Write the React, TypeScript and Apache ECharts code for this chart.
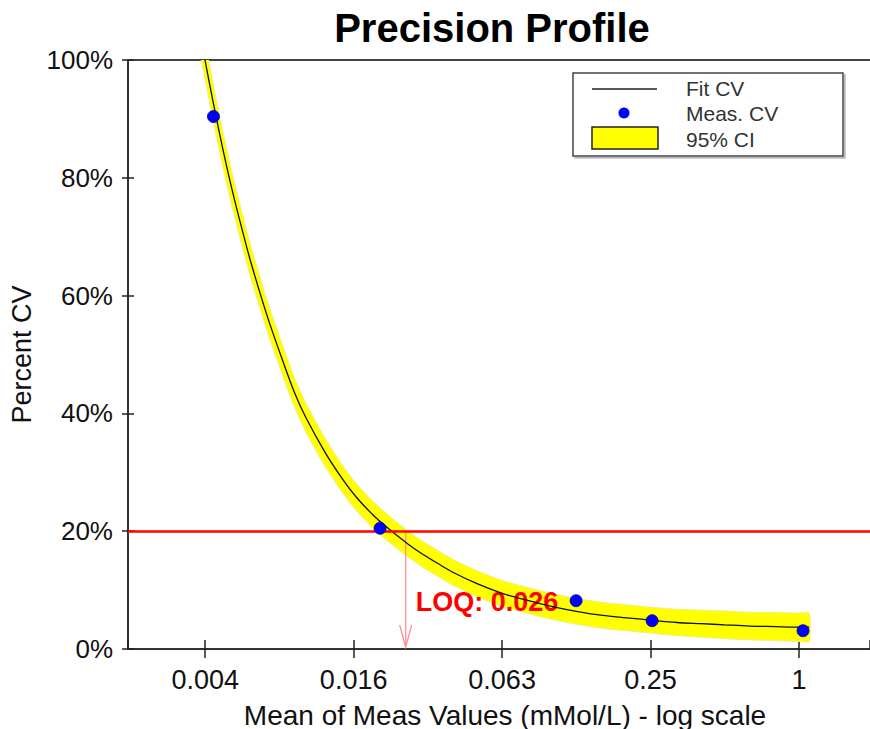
import React, { useEffect, useRef } from 'react';
import * as echarts from 'echarts';

const titleText = 'Precision Profile';
const xAxisTitle = 'Mean of Meas Values (mMol/L) - log scale';
const yAxisTitle = 'Percent CV';
const xTickPowers = [-4, -3, -2, -1, 0];
const xTickLabels = ['0.004', '0.016', '0.063', '0.25', '1'];
const xMin = 0.0019;
const xMax = 1.94;

const fitX = [0.0037, 0.0039, 0.0042, 0.0046, 0.005, 0.0055, 0.006, 0.007, 0.008, 0.009, 0.01, 0.012, 0.014, 0.016, 0.019, 0.022, 0.026, 0.03, 0.035, 0.04, 0.05, 0.063, 0.08, 0.1, 0.125, 0.16, 0.2, 0.25, 0.32, 0.4, 0.5, 0.63, 0.8, 1.0, 1.1];
const fitCV = [105.2, 100.0, 93.0, 85.0, 78.3, 71.4, 65.5, 56.3, 49.3, 43.5, 39.3, 33.3, 29.0, 25.8, 22.5, 20.2, 17.8, 16.0, 14.3, 12.9, 11.0, 9.4, 8.2, 7.2, 6.4, 5.7, 5.3, 4.9, 4.5, 4.3, 4.1, 3.9, 3.8, 3.7, 3.7];
const ciLow = [102.0, 96.8, 89.9, 82.0, 75.4, 68.6, 62.8, 53.7, 46.75, 41.0, 36.85, 30.9, 26.65, 23.5, 20.2, 17.95, 15.6, 13.8, 12.1, 10.7, 8.8, 7.2, 6.0, 5.0, 4.2, 3.5, 3.1, 2.7, 2.25, 2.0, 1.75, 1.55, 1.4, 1.3, 1.3];
const ciHigh = [108.4, 103.2, 96.1, 88.0, 81.2, 74.2, 68.2, 58.9, 51.85, 46.0, 41.75, 35.7, 31.35, 28.1, 24.8, 22.45, 20.0, 18.2, 16.5, 15.1, 13.2, 11.6, 10.4, 9.4, 8.6, 7.9, 7.5, 7.1, 6.75, 6.6, 6.45, 6.25, 6.2, 6.1, 6.1];

const measX = [0.00422, 0.02, 0.1247, 0.2536, 1.038];
const measCV = [90.4, 20.5, 8.2, 4.8, 3.1];

const loqLimit = 20;
const loqArrowX = 0.0254;
const loqLabel = '0.026';
const legendLabels = ['Fit CV', 'Meas. CV', '95% CI'];

const FONT = '"Liberation Sans", Arial, sans-serif';

export default function App() {
  const ref = useRef<HTMLDivElement>(null);
  useEffect(() => {
    document.body.style.margin = '0';
    if (!ref.current) return;
    const chart = echarts.init(ref.current, null, { renderer: 'svg' });
    const xFormatter = (v: number) => {
      const p = Math.log(v) / Math.log(4);
      const r = Math.round(p);
      if (Math.abs(p - r) > 0.02) return '';
      const i = xTickPowers.indexOf(r);
      return i >= 0 ? xTickLabels[i] : '';
    };
    const option: any = {
      animation: false,
      backgroundColor: '#ffffff',
      grid: { left: 128, right: 0, top: 60, bottom: 80, outerBoundsMode: 'none' },
      xAxis: [
        {
          type: 'log', logBase: 4, min: xMin, max: xMax, position: 'bottom',
          axisLine: { show: true, onZero: false, lineStyle: { color: '#333', width: 2 } },
          axisTick: { show: true, inside: false, length: 9, lineStyle: { color: '#222', width: 1.5 } },
          splitLine: { show: false },
          axisLabel: { formatter: xFormatter, margin: 17, color: '#111', fontSize: 27, fontFamily: FONT, showMinLabel: false, showMaxLabel: false },
          name: xAxisTitle, nameLocation: 'middle', nameGap: 52, nameMoveOverlap: false,
          nameTextStyle: { fontSize: 28, color: '#111', fontFamily: FONT, padding: [0, 0, 0, 12] },
        },
        {
          type: 'log', logBase: 4, min: xMin, max: xMax, position: 'bottom',
          axisLine: { show: false },
          axisTick: { show: true, inside: true, length: 9, lineStyle: { color: '#222', width: 1.5 } },
          splitLine: { show: false },
          axisLabel: { show: false },
        },
        {
          type: 'value', min: 0, max: 1, position: 'top',
          axisLine: { show: true, onZero: false, lineStyle: { color: '#444', width: 2 } },
          axisTick: { show: false }, splitLine: { show: false }, axisLabel: { show: false },
        },
      ],
      yAxis: [
        {
          type: 'value', min: 0, max: 100, interval: 20, position: 'left',
          axisLine: { show: true, onZero: false, lineStyle: { color: '#333', width: 2 } },
          axisTick: { show: true, inside: false, length: 6, lineStyle: { color: '#222', width: 1.5 } },
          splitLine: { show: false },
          axisLabel: { formatter: '{value}%', margin: 15, color: '#111', fontSize: 26, fontFamily: FONT },
          name: yAxisTitle, nameLocation: 'middle', nameGap: 93, nameMoveOverlap: false,
          nameTextStyle: { fontSize: 27, color: '#111', fontFamily: FONT },
        },
        {
          type: 'value', min: 0, max: 100, interval: 20, position: 'left',
          axisLine: { show: false },
          axisTick: { show: true, inside: true, length: 6, lineStyle: { color: '#222', width: 1.5 } },
          splitLine: { show: false }, axisLabel: { show: false },
        },
      ],
      series: [
        {
          type: 'custom', name: '95% CI', xAxisIndex: 0, yAxisIndex: 0, z: 1, clip: true, silent: true,
          data: fitX.map((x, i) => [x, ciLow[i], ciHigh[i]]),
          encode: { x: 0, y: [1, 2] },
          renderItem: (params: any, api: any) => {
            if (params.dataIndex !== 0) return { type: 'group', children: [] };
            const upper = fitX.map((x, i) => api.coord([x, ciHigh[i]]));
            const lower = fitX.map((x, i) => api.coord([x, ciLow[i]])).reverse();
            return {
              type: 'polygon',
              shape: { points: upper.concat(lower), smooth: 0.2 },
              style: { fill: '#ffff00', stroke: '#eeee90', lineWidth: 1 },
            };
          },
        },
        {
          type: 'custom', name: 'LOQ', xAxisIndex: 0, yAxisIndex: 0, z: 3, silent: true,
          data: [[loqArrowX, loqLimit]],
          renderItem: (params: any, api: any) => {
            const top = api.coord([loqArrowX, loqLimit]);
            const bot = api.coord([loqArrowX, 0]);
            return {
              type: 'group',
              children: [
                { type: 'line', shape: { x1: top[0], y1: top[1], x2: bot[0], y2: bot[1] - 2 }, style: { stroke: '#ff9090', lineWidth: 1.3 } },
                { type: 'polyline', shape: { points: [[bot[0] - 6, bot[1] - 24], [bot[0], bot[1] - 2], [bot[0] + 6, bot[1] - 24]] }, style: { stroke: '#ff9090', lineWidth: 1.3, fill: null } },
                { type: 'text', x: bot[0] + 10, y: bot[1] - 47, z2: 10, style: { text: 'LOQ: ' + loqLabel, fill: '#ff0000', font: 'bold 27px ' + FONT, align: 'left', verticalAlign: 'middle' } },
              ],
            };
          },
          markLine: {
            silent: true, symbol: 'none', label: { show: false },
            lineStyle: { color: '#ff0000', width: 2.5, type: 'solid' },
            data: [{ yAxis: loqLimit }],
          },
        },
        {
          type: 'line', name: 'Fit CV', xAxisIndex: 0, yAxisIndex: 0, z: 4, smooth: 0.3,
          showSymbol: false, symbol: 'none', silent: true,
          data: fitX.map((x, i) => [x, fitCV[i]]),
          lineStyle: { color: '#111', width: 1.3 },
        },
        {
          type: 'scatter', name: 'Meas. CV', xAxisIndex: 0, yAxisIndex: 0, z: 5,
          symbol: 'circle', symbolSize: 12, silent: true,
          data: measX.map((x, i) => [x, measCV[i]]),
          itemStyle: { color: '#0000ff', borderColor: '#00008b', borderWidth: 0.8, opacity: 1 },
        },
      ],
      graphic: [
        { type: 'text', x: 492, y: 27.5, style: { text: titleText, fill: '#000', font: 'bold 40px ' + FONT, align: 'center', verticalAlign: 'middle' } },
        {
          type: 'group', z: 100, children: [
            { type: 'rect', shape: { x: 573, y: 73, width: 270, height: 83 }, style: { fill: '#fff', stroke: '#444', lineWidth: 1.5, shadowColor: '#bbb', shadowOffsetX: 2, shadowOffsetY: 2, shadowBlur: 0 } },
            { type: 'line', shape: { x1: 592, y1: 89, x2: 657, y2: 89 }, style: { stroke: '#222', lineWidth: 1.5 } },
            { type: 'circle', shape: { cx: 624, cy: 113, r: 5.5 }, style: { fill: '#0000ff' } },
            { type: 'rect', shape: { x: 592, y: 127, width: 66, height: 22 }, style: { fill: '#ffff00', stroke: '#222', lineWidth: 1.5 } },
            { type: 'text', x: 686, y: 88, style: { text: legendLabels[0], fill: '#333', font: '21px ' + FONT, align: 'left', verticalAlign: 'middle' } },
            { type: 'text', x: 686, y: 113, style: { text: legendLabels[1], fill: '#333', font: '21px ' + FONT, align: 'left', verticalAlign: 'middle' } },
            { type: 'text', x: 686, y: 139, style: { text: legendLabels[2], fill: '#333', font: '21px ' + FONT, align: 'left', verticalAlign: 'middle' } },
          ],
        },
      ],
    };
    chart.setOption(option);
    return () => chart.dispose();
  }, []);
  return <div ref={ref} style={{ position: 'absolute', left: 0, top: 0, width: 870, height: 729 }} />;
}
